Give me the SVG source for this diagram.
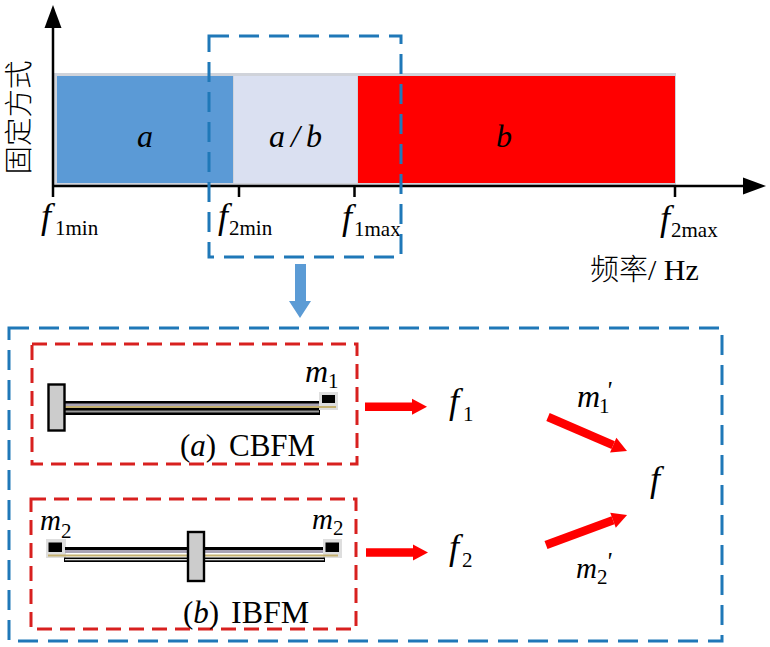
<svg xmlns="http://www.w3.org/2000/svg" width="770" height="647" viewBox="0 0 770 647">
<style>
text{font-family:"Liberation Serif","Noto Sans CJK SC",serif;fill:#000}
.i{font-style:italic}
.f{font-style:italic;font-size:36px}
.m{font-style:italic;font-size:32px}
.m2{font-style:italic;font-size:29px}
.s{font-size:21px;font-style:normal}
.l{font-size:31px}
.ab{font-size:32px;font-style:italic}
.cjk{font-family:"Noto Sans CJK SC",sans-serif;font-weight:300}
.axis{stroke:#000;stroke-width:2.5;fill:none}
.blue{fill:none;stroke:#1f78b8;stroke-width:3;stroke-dasharray:20 10}
.red{fill:none;stroke:#d8201f;stroke-width:3;stroke-dasharray:15 8}
.rarrow{stroke:#f00;stroke-width:8.5;fill:none;marker-end:url(#rh)}
.fix{fill:#ccc;stroke:#000;stroke-width:2.4}
.massbg{fill:#dedede}
.tan{stroke:#c4b070;stroke-width:2}
.p{font-size:25px;font-style:italic}
</style>
<defs>
<marker id="rh" markerUnits="userSpaceOnUse" markerWidth="16" markerHeight="18" refX="0" refY="8" orient="auto" overflow="visible"><path d="M0,0L15,8L0,16z" fill="#f00"/></marker>
<marker id="kh" markerUnits="userSpaceOnUse" markerWidth="24" markerHeight="18" refX="0" refY="8.5" orient="auto" overflow="visible"><path d="M0,0L23,8.5L0,17z" fill="#000"/></marker>
</defs>

<g id="bands">
<rect x="54" y="73" width="622" height="113" fill="#d0d3da"/>
<rect x="57" y="76" width="176" height="107" fill="#5b9ad6"/>
<rect x="234" y="76" width="123" height="107" fill="#dae0f1"/>
<rect x="358" y="76" width="317" height="107" fill="#f00"/>
<text class="ab" x="137" y="147">a</text>
<text class="ab" x="269" y="147">a</text>
<text class="ab" x="291" y="147" font-size="26">/</text>
<text class="ab" x="306" y="147">b</text>
<text class="ab" x="496" y="147">b</text>
</g>

<g id="axes">
<path class="axis" d="M53,197V28" marker-end="url(#kh)"/>
<path class="axis" d="M53,186H743" marker-end="url(#kh)"/>
<path class="axis" d="M239,186V197M354.500,186V197M675,186V197"/>
<text class="cjk" font-size="28.500" transform="translate(29 174.500) rotate(-90)">固定方式</text>
<text class="f" x="41" y="228">f</text><text class="s" x="55" y="235">1min</text>
<text class="f" x="218" y="228">f</text><text class="s" x="229" y="235">2min</text>
<text class="f" x="342" y="229">f</text><text class="s" x="354" y="236">1max</text>
<text class="f" x="660" y="230">f</text><text class="s" x="671" y="237">2max</text>
<text class="cjk" font-size="29" x="590" y="280">频率</text>
<text font-size="30" x="648" y="280" xml:space="preserve">/ Hz</text>
</g>

<g id="zoom-box"><rect class="blue" x="209" y="36" width="192" height="221"/></g>
<g id="zoom-arrow"><path d="M295,264H306V301H311L300,318L289,301H295z" fill="#5b9bd5"/></g>
<g id="detail-box"><rect class="blue" x="9" y="328" width="713" height="313"/></g>

<g id="cbfm">
<rect class="red" x="32" y="344" width="325" height="120"/>
<rect x="64" y="401" width="256" height="14" fill="#000"/>
<rect x="65" y="403.500" width="254" height="2.500" fill="#a9a3b5"/>
<rect x="65" y="410.500" width="254" height="2" fill="#999"/>
<rect class="massbg" x="319" y="392" width="19" height="18"/>
<rect x="322" y="395" width="13" height="8" fill="#000"/>
<path class="tan" d="M65,407H336"/>
<rect class="fix" x="48.500" y="384.500" width="16" height="46"/>
<text x="305" y="382"><tspan class="m">m</tspan><tspan class="s" dy="6">1</tspan></text>
<text class="l" x="180" y="456">(<tspan class="i">a</tspan>)</text>
<text class="l" x="229" y="456">CBFM</text>
</g>

<g id="ibfm">
<rect class="red" x="31" y="499" width="325" height="130"/>
<rect class="massbg" x="46" y="539" width="20" height="19"/>
<rect class="massbg" x="323" y="539" width="19" height="19"/>
<rect x="65" y="547" width="258" height="3" fill="#000"/>
<rect x="65" y="550" width="258" height="3" fill="#a9a3b5"/>
<rect x="64" y="557.500" width="261" height="4.500" fill="#000"/>
<rect x="65" y="559" width="259" height="1.300" fill="#ddd"/>
<rect x="48.500" y="542.500" width="13.500" height="9.500" fill="#000"/>
<rect x="325.500" y="542.500" width="13.500" height="9.500" fill="#000"/>
<path class="tan" d="M48,555.500H338"/>
<rect class="fix" x="188" y="532" width="16" height="49"/>
<text x="40" y="530"><tspan class="m2">m</tspan><tspan class="s" dy="8">2</tspan></text>
<text x="312" y="529"><tspan class="m2">m</tspan><tspan class="s" dy="6">2</tspan></text>
<text class="l" x="183" y="623">(<tspan class="i">b</tspan>)</text>
<text font-size="32" x="231" y="623">IBFM</text>
</g>

<g id="connectors">
<path class="rarrow" d="M365,406.700H412"/>
<path class="rarrow" d="M366,552.500H413"/>
<path class="rarrow" d="M548,417L613.200,445.100"/>
<path class="rarrow" d="M546,545L613,520.200"/>
</g>

<g id="f1"><text class="f" x="449" y="413">f</text><text class="s" x="463" y="421">1</text></g>
<g id="f2"><text class="f" x="449" y="559">f</text><text class="s" x="462" y="567">2</text></g>
<g id="f"><text class="f" x="650" y="491">f</text></g>
<g id="m1p"><text x="577" y="407"><tspan class="m">m</tspan><tspan class="s" dx="-1" dy="6">1</tspan></text><text class="p" x="606" y="399">'</text></g>
<g id="m2p"><text x="576" y="578"><tspan class="m2">m</tspan><tspan class="s" dy="6">2</tspan></text><text class="p" x="606" y="570">'</text></g>
</svg>
